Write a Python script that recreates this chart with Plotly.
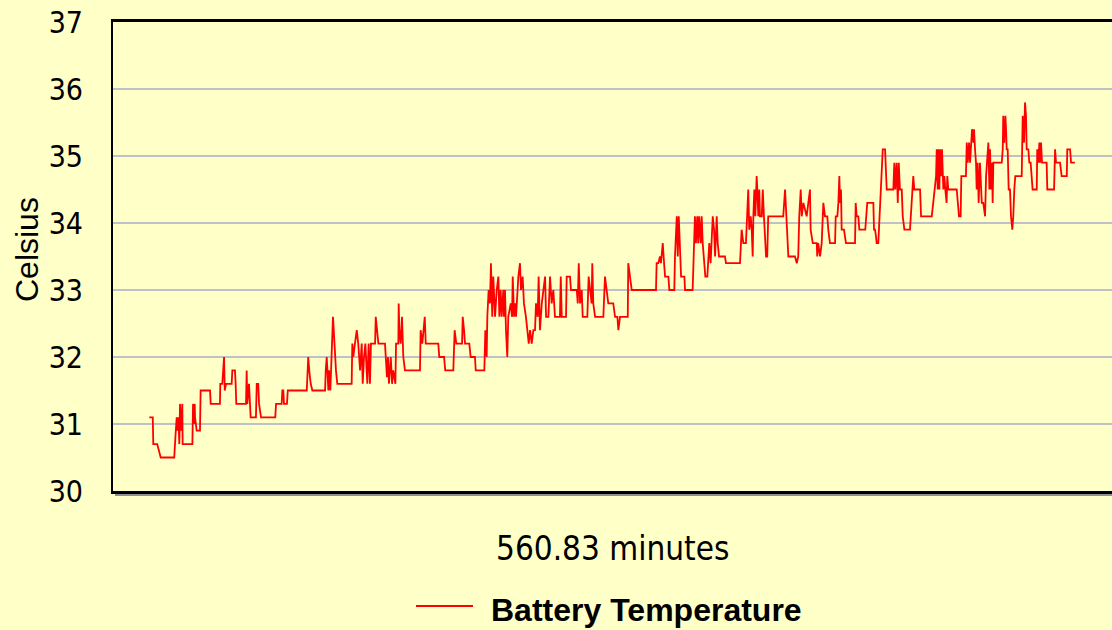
import plotly.graph_objects as go

# elapsed time (minutes) and battery temperature (Celsius)
TIME_MIN = [0.0, 2.1, 2.4, 4.8, 6.9, 15.1, 15.8, 16.6, 17.2, 17.6, 18.2, 18.6, 19.2, 20.0, 20.2,
            26.1, 26.5, 27.1, 27.5, 27.7, 28.7, 30.7, 31.1, 36.8, 37.2, 42.8, 43.0, 44.2, 45.3, 45.7,
            46.5, 49.9, 50.3, 51.9, 52.3, 52.7, 58.6, 59.0, 59.4, 60.4, 61.4, 64.6, 65.1, 66.0, 66.5, 67.7,
            76.3, 76.8, 80.2, 80.6, 81.2, 81.6, 83.4, 83.9, 95.4, 96.3, 96.9, 97.8, 98.8,
            106.5, 106.9, 107.5, 108.5, 108.9, 109.7, 110.1, 110.7, 111.3, 111.7, 112.5, 113.1, 113.9,
            122.6, 123.0, 123.6, 124.6, 125.7, 126.6, 127.7, 128.7, 129.3, 130.1, 130.9, 131.7, 132.1, 132.9, 133.7, 134.3, 136.8, 137.2, 137.8, 138.8,
            142.8, 143.4, 144.0, 144.6, 145.2, 146.3, 147.1, 147.8, 149.1, 149.5, 150.9, 151.1, 151.5, 152.3, 153.1, 153.9, 154.9,
            164.0, 164.4, 165.4, 166.0, 166.9, 167.5, 175.1, 175.7, 178.6, 179.3, 184.2, 185.0, 186.0,
            189.5,
            189.9, 190.7, 191.3, 193.9, 194.7, 197.3, 197.8, 203.0,
            203.6, 204.4, 204.8, 205.6, 206.4, 207.0, 207.8, 208.4, 209.5, 210.5, 211.5, 212.1, 212.9, 213.5, 214.5, 214.9, 215.5, 216.1, 216.9,
            217.5, 219.0, 219.8, 220.2, 221.0, 221.6, 222.2, 223.6, 224.6, 225.2, 226.2, 227.0, 228.2, 229.0, 229.9, 230.7, 231.7, 232.7, 233.7,
            234.3, 235.3, 235.9, 236.7, 237.8, 238.7, 239.8, 240.4, 241.8, 242.8, 243.8, 244.8, 245.8, 248.8, 249.3, 249.9,
            252.5, 252.9, 254.9, 255.5, 259.0, 259.6, 260.2, 261.0, 262.0, 262.6, 265.4, 266.2, 267.0, 268.0, 268.4, 269.0, 270.1,
            275.1, 276.1, 277.1, 278.1, 281.1, 282.2, 283.6, 284.2, 285.2, 289.9, 290.2, 291.3, 292.3,
            307.0, 307.4, 308.4, 309.4, 310.0, 311.1, 311.9, 312.5, 314.5, 315.1, 318.1, 318.5, 319.6, 320.2, 320.8, 321.6, 322.2, 324.2, 324.6,
            329.2, 330.0, 330.6, 331.2, 332.0, 332.6, 333.2, 334.1, 334.7, 335.3, 336.1, 336.9, 338.1, 338.7, 339.3, 340.1, 340.8, 341.4, 342.2, 342.8, 343.8, 344.4, 345.2, 348.8, 349.4, 357.9,
            358.9, 359.9, 361.5, 362.3, 362.9, 363.5, 364.4, 365.0, 365.6, 366.0, 366.6, 367.2, 367.6, 368.0, 368.4, 369.0, 369.6, 370.0, 371.1, 371.7, 372.4, 373.1, 373.7, 374.4, 375.0,
            384.1, 385.2, 385.8, 386.6, 387.2, 391.2, 392.3, 393.2, 393.8, 394.7, 395.3, 396.3, 398.3, 399.3, 400.3, 400.7, 402.0, 404.4, 404.7, 405.3, 406.4, 407.4,
            408.4, 409.4, 410.8, 411.4, 412.4, 415.5, 415.9, 416.9, 417.5, 418.1, 418.5, 419.1, 419.5, 420.9, 422.1, 427.6, 428.0, 428.6, 429.6, 430.2,
            433.8, 435.0, 438.7, 439.1, 439.7, 440.3, 440.7, 441.7, 442.7, 443.8, 444.4, 445.8, 446.4, 446.8, 450.8, 451.4, 452.0, 452.8, 453.5, 454.1, 454.8, 455.9, 456.5, 457.5,
            460.9, 461.3, 462.3, 462.9, 463.5, 467.0, 467.6, 474.1, 476.7, 477.1, 477.7, 478.1, 478.7, 479.1, 479.7, 480.3, 481.1, 481.7, 482.3, 483.1, 483.5, 484.1,
            489.2, 489.8, 490.6, 491.6, 492.0, 494.8, 495.3, 495.9, 496.7, 497.3, 497.9, 498.5, 499.3, 499.7, 500.3, 500.9, 501.3, 501.9, 502.5, 502.9, 503.3, 504.4, 505.3, 506.4,
            507.0, 508.4, 509.0, 509.4, 510.0, 510.6, 511.0, 511.4, 516.5, 517.1, 517.4, 518.0, 518.7, 519.1, 519.5, 520.1, 520.7, 521.5, 522.1, 522.9, 523.5, 524.1, 524.7,
            528.6, 529.2, 530.0, 530.6, 531.2, 531.6, 532.6, 533.2, 534.0, 534.6, 535.2, 537.7, 538.0, 538.6, 539.3, 539.7, 540.3, 540.9, 543.7, 544.1, 548.2, 548.8, 549.4, 551.8, 552.8, 555.9, 556.2, 557.9, 558.5, 560.8]

TEMP_C = [31.1, 31.1, 30.7, 30.7, 30.5, 30.5, 30.8, 31.1, 30.9, 31.1, 30.7, 31.3, 30.9, 31.3, 30.7,
          30.7, 31.3, 31.0, 31.3, 31.1, 30.9, 30.9, 31.5, 31.5, 31.3, 31.3, 31.6, 31.6, 32.0, 31.5,
          31.6, 31.6, 31.8, 31.8, 31.6, 31.3, 31.3, 31.8, 31.3, 31.6, 31.1, 31.1, 31.6, 31.6, 31.3, 31.1,
          31.1, 31.3, 31.3, 31.5, 31.5, 31.3, 31.3, 31.5, 31.5, 32.0, 31.8, 31.6, 31.5,
          31.5, 31.8, 32.0, 31.5, 31.8, 31.5, 32.0, 32.2, 32.6, 32.4, 32.0, 31.8, 31.6,
          31.6, 32.2, 32.0, 32.2, 32.4, 32.2, 31.8, 32.2, 31.6, 32.0, 32.2, 31.8, 31.6, 32.2, 31.6, 32.2, 32.2, 32.6, 32.4, 32.2,
          32.2, 32.0, 31.7, 32.0, 31.6, 32.0, 31.6, 31.8, 31.6, 32.2, 32.2, 32.8, 32.4, 32.2, 32.6, 32.0, 31.8,
          31.8, 32.4, 32.2, 32.4, 32.6, 32.2, 32.2, 32.0, 32.0, 31.8, 31.8, 32.4, 32.2,
          32.2,
          32.6, 32.4, 32.2, 32.2, 32.0, 32.0, 31.8, 31.8,
          32.4, 32.0, 32.6, 33.0, 32.8, 33.4, 32.6, 33.2, 32.6, 33.0, 33.2, 32.6, 33.0, 32.6, 33.0, 32.6, 33.0, 32.4, 32.0,
          32.6, 32.8, 32.6, 33.2, 32.6, 32.8, 32.6, 33.2, 33.4, 33.0, 33.2, 32.8, 32.6, 32.4, 32.2, 32.4, 32.2, 32.4, 32.4,
          32.8, 32.6, 33.2, 32.4, 32.8, 33.0, 33.2, 32.6, 32.6, 33.2, 32.8, 33.0, 32.6, 32.6, 33.2, 32.6,
          32.6, 33.2, 33.2, 33.0, 33.0, 32.8, 33.4, 32.8, 33.0, 32.6, 32.6, 33.2, 33.0, 32.8, 33.4, 32.8, 32.6,
          32.6, 33.2, 33.0, 32.8, 32.8, 32.6, 32.6, 32.4, 32.6, 32.6, 33.4, 33.2, 33.0,
          33.0, 33.4, 33.4, 33.5, 33.4, 33.7, 33.4, 33.2, 33.2, 33.0, 33.0, 33.5, 34.1, 33.5, 34.1, 33.4, 33.2, 33.2, 33.0,
          33.0, 33.5, 34.1, 33.7, 34.1, 33.7, 34.1, 33.7, 34.1, 33.7, 33.4, 33.2, 33.2, 33.4, 33.7, 33.4, 33.7, 34.1, 33.9, 33.5, 34.1, 33.7, 33.5, 33.5, 33.4, 33.4,
          33.9, 33.7, 33.7, 34.1, 34.5, 33.9, 34.1, 33.9, 33.5, 34.1, 34.5, 34.1, 34.5, 34.7, 34.5, 34.1, 34.5, 34.1, 34.1, 34.5, 34.1, 33.8, 33.5, 33.5, 34.1,
          34.1, 34.5, 34.2, 33.7, 33.5, 33.5, 33.4, 33.5, 34.1, 34.5, 34.1, 34.3, 34.1, 34.3, 34.5, 33.9, 33.7, 33.7, 33.5, 33.7, 33.5, 33.7,
          34.3, 34.1, 34.1, 33.9, 33.7, 33.7, 34.1, 34.1, 34.3, 34.7, 34.3, 34.5, 33.9, 33.9, 33.7, 33.7, 34.3, 34.1, 34.1, 33.9,
          33.9, 34.3, 34.3, 33.9, 33.9, 33.8, 33.7, 33.7, 34.3, 34.7, 35.1, 35.1, 34.7, 34.5, 34.5, 34.9, 34.5, 34.9, 34.3, 34.9, 34.5, 34.5, 34.1, 33.9,
          33.9, 34.1, 34.5, 34.7, 34.5, 34.5, 34.1, 34.1, 34.7, 35.1, 34.5, 35.1, 34.5, 35.1, 34.7, 35.1, 34.5, 34.7, 34.5, 34.3, 34.7, 34.5,
          34.5, 34.3, 34.1, 34.1, 34.7, 34.7, 35.2, 34.9, 35.2, 34.9, 35.2, 35.4, 35.2, 35.4, 35.1, 34.9, 34.5, 34.9, 34.3, 34.5, 34.9, 34.3, 34.3, 34.1,
          34.7, 35.2, 34.5, 35.1, 34.5, 34.9, 34.3, 34.9, 34.9, 35.1, 35.6, 35.2, 35.6, 35.4, 35.1, 35.1, 34.5, 34.5, 34.1, 33.9, 34.1, 34.5, 34.7,
          34.7, 35.6, 35.2, 35.8, 35.6, 35.1, 35.1, 34.9, 34.9, 34.7, 34.5, 34.5, 35.1, 34.9, 35.2, 34.9, 35.2, 34.9, 34.9, 34.5, 34.5, 35.1, 34.9, 34.9, 34.7, 34.7, 35.1, 35.1, 34.9, 34.9]

Y_TICKS = [30, 31, 32, 33, 34, 35, 36, 37]
SERIES_NAME = "Battery Temperature"
X_TITLE = "560.83 minutes"
Y_TITLE = "Celsius"

assert len(TIME_MIN) == len(TEMP_C)

BG = "#FFFFC8"
NARROW = "DejaVu Sans Condensed, DejaVu Sans, sans-serif"
SANS = "Liberation Sans, Arial, sans-serif"

fig = go.Figure()
fig.add_trace(go.Scatter(x=TIME_MIN, y=TEMP_C, mode="lines", name=SERIES_NAME,
                         line=dict(color="#FF0000", width=1.8), showlegend=False))

fig.update_layout(
    width=1112, height=630,
    margin=dict(l=113, r=0, t=22, b=139),
    paper_bgcolor=BG, plot_bgcolor=BG,
    showlegend=False,
)
# x axis line at bottom, mirrored to draw the top border; the right side stays open
fig.update_xaxes(range=[-22.0, 583.3], showgrid=False, zeroline=False,
                 showticklabels=False, ticks="",
                 showline=True, linecolor="black", linewidth=3, mirror=True)
fig.update_yaxes(range=[30, 37], tickvals=Y_TICKS, ticktext=[str(v) for v in Y_TICKS],
                 showgrid=True, gridcolor="#C0C0C8", gridwidth=2, zeroline=False,
                 ticks="", ticklabelstandoff=22,
                 tickfont=dict(family=NARROW, size=30, color="black"),
                 showline=True, linecolor="black", linewidth=2, mirror=False)

# shadow under the bottom axis line
fig.add_shape(type="line", xref="paper", yref="paper", x0=0.002, x1=1.0,
              y0=-4 / 469, y1=-4 / 469, line=dict(color="#909090", width=2), layer="below")

# x-axis title and y-axis title
fig.add_annotation(text=X_TITLE, xref="paper", yref="paper", x=0.5, y=-0.122,
                   xanchor="center", yanchor="middle", showarrow=False,
                   font=dict(family=NARROW, size=33, color="black"))
fig.add_annotation(text=Y_TITLE, xref="paper", yref="paper", x=-0.086, y=0.514,
                   xanchor="center", yanchor="middle", showarrow=False, textangle=-90,
                   font=dict(family=SANS, size=32, color="black"))

# legend (drawn manually to match the reference's long sample line)
fig.add_shape(type="line", xref="paper", yref="paper",
              x0=(416 - 113) / 999, x1=(473 - 113) / 999,
              y0=(491 - 606) / 469, y1=(491 - 606) / 469,
              line=dict(color="#FF0000", width=1.8))
fig.add_annotation(text="<b>" + SERIES_NAME + "</b>", xref="paper", yref="paper",
                   x=(489 - 113) / 999, y=(491 - 610) / 469,
                   xanchor="left", yanchor="middle", showarrow=False,
                   font=dict(family=SANS, size=32, color="black"))

POST = (
    "document.body.style.margin='0';"
    "document.body.style.background='" + BG + "';"
)

fig.write_html("out.html", post_script=POST, config={"displayModeBar": False})
